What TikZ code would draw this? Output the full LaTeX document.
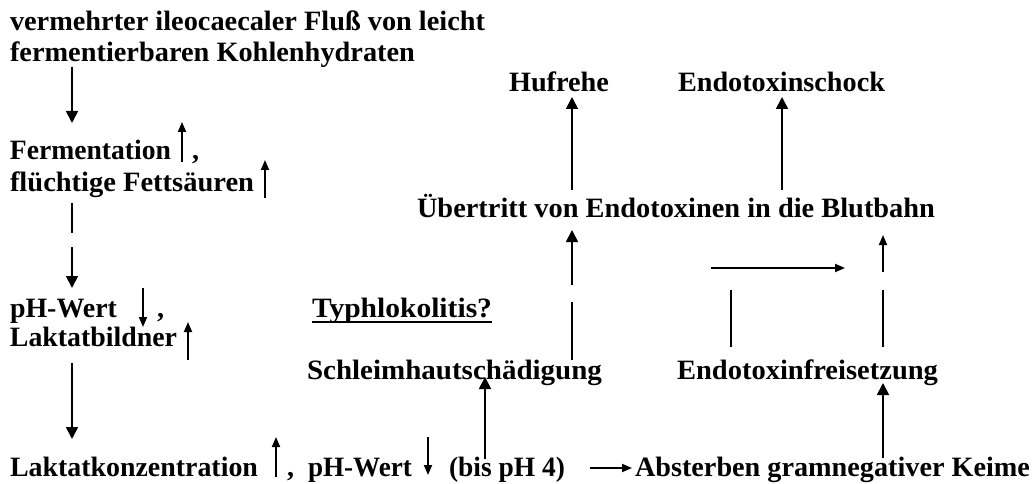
\documentclass[tikz,border=0pt]{standalone}
\usepackage{fontspec}
\setmainfont{Liberation Serif}
\usetikzlibrary{arrows.meta,calc}
\newcommand\fitw[2]{\setbox0\hbox{#2}\pgfmathsetmacro\fitratio{#1/\wd0}\scalebox{\fitratio}[1]{\box0}}
\begin{document}
\begin{tikzpicture}[x=1pt,y=-1pt,
  txt/.style={inner sep=0pt, outer sep=0pt, anchor=base west,
    font=\fontsize{28pt}{32pt}\selectfont\bfseries, text height=17pt, text depth=5pt},
  ln/.style={line width=1.8pt},
  arr/.style={ln, -{Triangle[length=12pt,width=12pt]}},
  sarr/.style={ln, -{Triangle[length=10pt,width=8pt]}}]
\useasboundingbox[fill=white] (0,0) rectangle (1034,484);
% columns
\coordinate (cL) at (72,0);
\coordinate (cS) at (485,0);
\coordinate (cU) at (572,0);
\coordinate (cE) at (782,0);
\coordinate (cF) at (731,0);
\coordinate (cR) at (883,0);
% texts
\node[txt] (t1) at (10,31) {\fitw{475}{vermehrter ileocaecaler Fluß von leicht}};
\node[txt] (t2) at (10,62) {\fitw{405}{fermentierbaren Kohlenhydraten}};
\node[txt] (f1) at (10,160) {\fitw{161}{Fermentation}};
\node[txt] (c1) at (192,160) {,};
\node[txt] (fl) at (10,191) {\fitw{244}{flüchtige Fettsäuren}};
\node[txt] (p1) at (10,317) {\fitw{107}{pH-Wert}};
\node[txt] (c2) at (157,317) {,};
\node[txt] (lb) at (10,346) {\fitw{167}{Laktatbildner}};
\node[txt] (k1) at (10,476) {\fitw{248}{Laktatkonzentration}};
\node[txt] (c3) at (287,476) {,};
\node[txt] (p2) at (308,476) {\fitw{104}{pH-Wert}};
\node[txt] (b4) at (449,476) {\fitw{116}{(bis pH 4)}};
\node[txt] (ab) at (635,476) {\fitw{395}{Absterben gramnegativer Keime}};
\node[txt] (ty) at (312,317) {\fitw{180}{Typhlokolitis?}};
\draw[line width=1.6pt] ($(ty.base west)+(0,5)$) -- ($(ty.base east)+(0,5)$);
\node[txt] (s1) at (307,379) {\fitw{295}{Schleimhautschädigung}};
\node[txt] (ef) at (677,379) {\fitw{261}{Endotoxinfreisetzung}};
\node[txt] (ub) at (417,217) {\fitw{518}{Übertritt von Endotoxinen in die Blutbahn}};
\node[txt] (hu) at (509,92) {\fitw{100}{Hufrehe}};
\node[txt] (es) at (678,92) {\fitw{207}{Endotoxinschock}};
% left chain
\draw[arr, shorten >=20pt] (t2.south -| cL) -- (f1.north -| cL);
\draw[ln] ($(fl.south -| cL)+(0,7)$) -- ($(fl.south -| cL)+(0,37)$);
\draw[arr, shorten >=12pt] ($(p1.north -| cL)+(0,-53)$) -- (p1.north -| cL);
\draw[arr, shorten <=12pt, shorten >=20pt] (lb.south -| cL) -- (k1.north -| cL);
% indicator arrows
\coordinate (i1) at (182,162); \draw[sarr] (i1) -- ++(0,-40);
\coordinate (i2) at (265,198); \draw[sarr] (i2) -- ++(0,-38);
\coordinate (i3) at (143,288); \draw[sarr] (i3) -- ++(0,39);
\coordinate (i4) at (188,360); \draw[sarr] (i4) -- ++(0,-38);
\coordinate (i5) at (276,477); \draw[sarr] (i5) -- ++(0,-40);
\coordinate (i6) at (428,437); \draw[sarr] (i6) -- ++(0,38);
% bottom row
\draw[sarr] ($(b4.base east)+(25,-8)$) -- ($(ab.base west)+(-3,-8)$);
\draw[arr, shorten >=-7pt] (b4.north -| cS) -- (s1.south -| cS);
\draw[arr, shorten <=1pt, shorten >=-1pt] (ab.north -| cR) -- (ef.south -| cR);
% middle
\draw[ln] ($(s1.north -| cU)+(0,-2)$) -- ($(s1.north -| cU)+(0,-60)$);
\draw[arr, shorten >=8pt] ($(ub.south -| cU)+(0,63)$) -- (ub.south -| cU);
\draw[ln] ($(ef.north -| cF)+(0,-15)$) -- ($(ef.north -| cF)+(0,-72)$);
\draw[ln] ($(ef.north -| cR)+(0,-15)$) -- ($(ef.north -| cR)+(0,-72)$);
\draw[sarr] ($(ef.north -| cF)+(-20,-94)$) -- ($(ef.north -| cR)+(-38,-94)$);
\draw[sarr, shorten >=13pt] ($(ub.south -| cR)+(0,50)$) -- (ub.south -| cR);
% top
\draw[arr, shorten <=10pt] (ub.north -| cU) -- (hu.south -| cU);
\draw[arr, shorten <=10pt] (ub.north -| cE) -- (es.south -| cE);
\end{tikzpicture}
\end{document}
